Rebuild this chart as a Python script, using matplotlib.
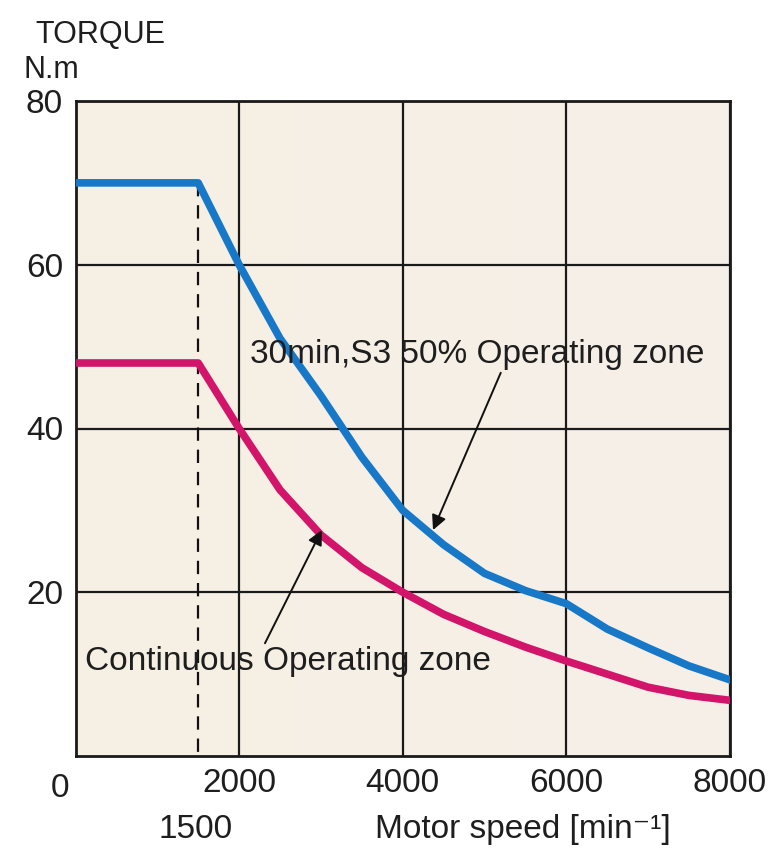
import matplotlib
matplotlib.use("Agg")
import matplotlib.pyplot as plt
import numpy as np

plt.rcParams['font.family'] = ['Liberation Sans', 'DejaVu Sans']

# curve data
speed = [0, 1500, 2000, 2500, 3000, 3500, 4000, 4500, 5000, 5500, 6000, 6500, 7000, 7500, 8000]
torque_s3 = [70, 70, 60, 51, 44, 36.5, 30, 25.8, 22.3, 20.2, 18.6, 15.5, 13.2, 11, 9.3]
torque_cont = [48, 48, 40, 32.5, 27, 23, 20, 17.3, 15.2, 13.3, 11.6, 10, 8.4, 7.4, 6.8]

xticks = [2000, 4000, 6000, 8000]
yticks = [20, 40, 60, 80]
base_speed = 1500

txt_col = '#1e1e1e'

fig = plt.figure(figsize=(7.7, 8.6), dpi=100)
ax = fig.add_axes([75.5 / 770, 1 - 756 / 860, 654.5 / 770, 655 / 860])

# cream background with a faint gradient
grad = np.linspace(0, 1, 256).reshape(1, -1)
from matplotlib.colors import LinearSegmentedColormap
bg = LinearSegmentedColormap.from_list('bg', ['#f6f0e3', '#f7efe9'])
ax.imshow(grad, extent=[0, 8000, 0, 80], aspect='auto', cmap=bg, zorder=0)

ax.set_xlim(0, 8000)
ax.set_ylim(0, 80)
ax.set_xticks(xticks)
ax.set_xticklabels([str(t) for t in xticks])
ax.set_yticks(yticks)
ax.set_yticklabels([str(t) for t in yticks])
ax.tick_params(length=0, labelsize=24, labelcolor=txt_col)
ax.tick_params(axis='x', pad=9)
ax.tick_params(axis='y', pad=9)
ax.grid(True, color='#1a1a1a', lw=1.6, zorder=1)
for s in ax.spines.values():
    s.set_linewidth(2)
    s.set_color('#1a1a1a')

ax.plot([base_speed, base_speed], [70, 0], color='#111111', lw=1.6,
        ls=(0, (6, 4)), zorder=2)

ax.plot(speed, torque_s3, color='#1778c8', lw=5.5, solid_joinstyle='round', zorder=3)
ax.plot(speed, torque_cont, color='#d2146a', lw=5.5, solid_joinstyle='round', zorder=3)

ax.annotate('30min,S3 50% Operating zone', xy=(4370, 27.6), xytext=(2130, 48.0),
            fontsize=24, color=txt_col, ha='left', va='baseline', zorder=4,
            arrowprops=dict(arrowstyle='-|>', color='#111111', lw=1.4,
                            mutation_scale=22, shrinkA=0, shrinkB=0,
                            relpos=(0.555, 0.0)))
ax.annotate('Continuous Operating zone', xy=(3010, 27.6), xytext=(116, 10.5),
            fontsize=24, color=txt_col, ha='left', va='baseline', zorder=4,
            arrowprops=dict(arrowstyle='-|>', color='#111111', lw=1.4,
                            mutation_scale=22, shrinkA=0, shrinkB=0,
                            relpos=(0.44, 1.0)))

# labels outside the plot area
fig.text(35 / 770, 1 - 43 / 860, 'TORQUE', fontsize=22, color=txt_col, va='baseline')
fig.text(23 / 770, 1 - 78 / 860, 'N.m', fontsize=22, color=txt_col, va='baseline')
fig.text(60 / 770, 1 - 797 / 860, '0', fontsize=24, color=txt_col, ha='center', va='baseline')
fig.text(196 / 770, 1 - 838 / 860, str(base_speed), fontsize=24, color=txt_col,
         ha='center', va='baseline')
fig.text(375 / 770, 1 - 838 / 860, 'Motor speed [min\u207b\u00b9]', fontsize=24,
         color=txt_col, ha='left', va='baseline')

fig.savefig('out.png', dpi=100)
